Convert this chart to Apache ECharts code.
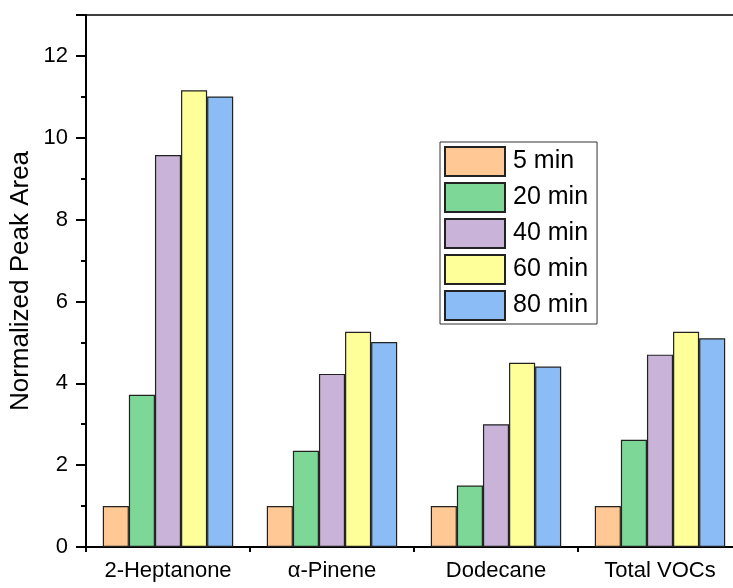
<!DOCTYPE html>
<html><head><meta charset="utf-8">
<script src="https://cdn.jsdelivr.net/npm/echarts@6/dist/echarts.min.js"></script>
<style>html,body{margin:0;padding:0;background:#fff}#c{width:733px;height:588px}</style>
</head><body><div id="c"></div>
<script>
const categories = ['2-Heptanone', 'α-Pinene', 'Dodecane', 'Total VOCs'];
const seriesNames = ['5 min', '20 min', '40 min', '60 min', '80 min'];
const v5 = [1, 1, 1, 1];
const v20 = [3.72, 2.35, 1.5, 2.62];
const v40 = [9.58, 4.23, 3.0, 4.7];
const v60 = [11.16, 5.26, 4.5, 5.26];
const v80 = [11.01, 5.01, 4.41, 5.1];
const colors = ['#FFC895', '#7DD898', '#C9B3D8', '#FFFF9A', '#8BBCF5'];
const values = [v5, v20, v40, v60, v80];
const font = 'Liberation Sans, Arial, sans-serif';

const chart = echarts.init(document.getElementById('c'));
chart.setOption({
  animation: false,
  backgroundColor: '#fff',
  grid: {left: 86, top: 15, right: -9, bottom: 41, containLabel: false, outerBoundsMode: 'none',
    show: true, borderColor: '#000', borderWidth: 1.5, backgroundColor: 'transparent'},
  legend: {
    orient: 'vertical', left: 440, top: 142, icon: 'rect',
    itemWidth: 60, itemHeight: 29, itemGap: 5,
    padding: [4, 9, 3, 4],
    borderColor: '#333', borderWidth: 1,
    textStyle: {fontFamily: font, fontSize: 25, color: '#000', padding: [0, 0, 0, 3]},
    data: seriesNames
  },
  xAxis: [{
    type: 'category', data: categories,
    axisLine: {lineStyle: {color: '#000', width: 2}},
    axisTick: {alignWithLabel: true, length: 10, lineStyle: {color: '#000', width: 2}},
    axisLabel: {fontFamily: font, fontSize: 22, color: '#000', margin: 13, interval: 0}
  }, {
    type: 'category', data: categories, position: 'bottom',
    axisLine: {show: false},
    axisTick: {show: true, length: 5, lineStyle: {color: '#000', width: 2}},
    axisLabel: {show: false}
  }],
  yAxis: {
    type: 'value', min: 0, max: 13, interval: 2,
    name: 'Normalized Peak Area', nameLocation: 'middle', nameGap: 52, nameMoveOverlap: false,
    nameTextStyle: {fontFamily: font, fontSize: 26, color: '#000'},
    axisLine: {show: true, lineStyle: {color: '#000', width: 2}},
    axisTick: {show: true, length: 10, lineStyle: {color: '#000', width: 2}},
    minorTick: {show: true, splitNumber: 2, length: 5, lineStyle: {color: '#000', width: 2}},
    splitLine: {show: false},
    axisLabel: {fontFamily: font, fontSize: 22, color: '#000', margin: 18, showMaxLabel: false,
      formatter: v => (v % 2 === 0 ? String(v) : '')}
  },
  series: seriesNames.map((n, i) => ({
    name: n, type: 'bar', data: values[i], xAxisIndex: 0,
    barGap: '0%', barCategoryGap: '20.5%',
    itemStyle: {color: colors[i], borderColor: '#222', borderWidth: 1.2}
  }))
});
</script></body></html>
